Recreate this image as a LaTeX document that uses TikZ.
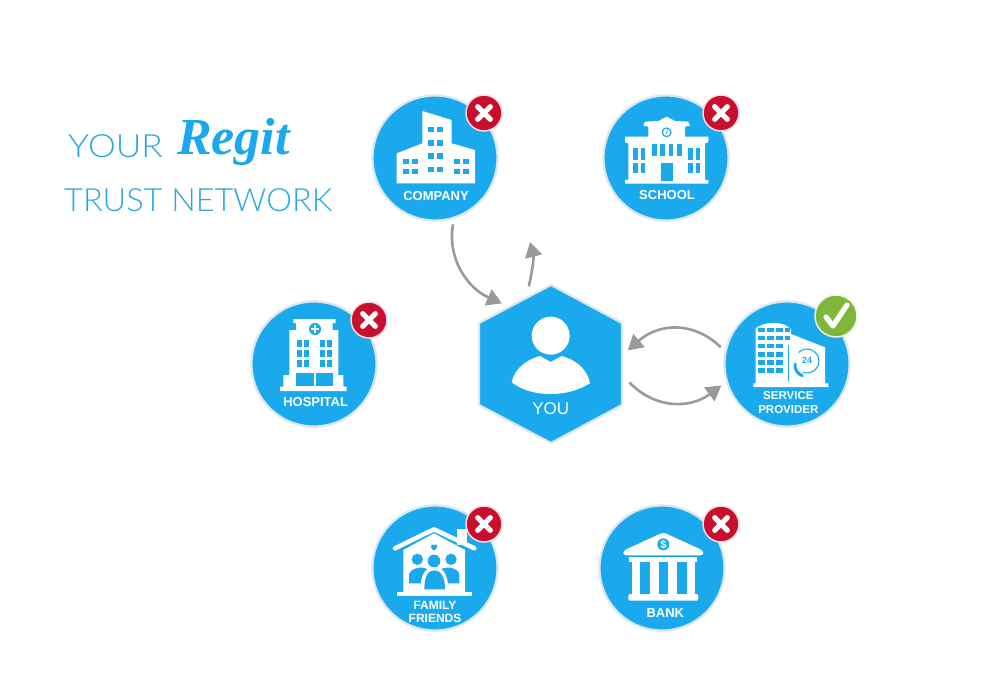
\documentclass[tikz,border=0pt]{standalone}
\usepackage{fontspec}
\setmainfont{Liberation Sans}
\newfontfamily\lightfont{Lato}[UprightFont=* Light]
\newfontfamily\logofont{Liberation Serif}
\usetikzlibrary{arrows.meta,calc}
\definecolor{hub}{HTML}{1AA9EC}
\definecolor{rim}{HTML}{DCE6EE}
\definecolor{titleblue}{HTML}{2BA8E0}
\definecolor{conn}{HTML}{9A9A9A}
\definecolor{nored}{HTML}{C8102E}
\definecolor{okgreen}{HTML}{7FB63C}
\tikzset{
  hubcircle/.style={circle,fill=hub,draw=rim,line width=2.2pt,minimum size=125pt,inner sep=0pt,outer sep=0pt},
  badge/.style={circle,fill=nored,draw=white!85!nored,line width=1.5pt,minimum size=36pt,inner sep=0pt},
  okbadge/.style={circle,fill=okgreen,draw=white!85!okgreen,line width=1.5pt,minimum size=42pt,inner sep=0pt},
  mark stroke/.style={draw=white,line width=5.2pt,line cap=round,line join=round},
  label/.style={text=white,font=\bfseries\fontsize{13}{13}\selectfont,align=center,inner sep=0pt},
  smalllabel/.style={text=white,font=\bfseries\fontsize{12}{13.5}\selectfont,align=center,inner sep=0pt},
  title/.style={text=titleblue,font=\lightfont\fontsize{32}{32}\selectfont,anchor=base west,inner sep=0pt},
  flow/.style={draw=conn,line width=2.6pt,-{Triangle[length=15pt,width=17pt]}},
  zoomed/.style={x=0.33333pt,y=-0.33333pt},
}
\newcommand{\crossmark}[1]{\draw[mark stroke] ($(#1)+(-6.3,-6.3)$) -- ($(#1)+(6.3,6.3)$) ($(#1)+(-6.3,6.3)$) -- ($(#1)+(6.3,-6.3)$);}
\newcommand{\wbox}[4]{\fill[white] (#1,#2) rectangle (#3,#4);}
\newcommand{\bbox}[4]{\fill[hub] (#1,#2) rectangle (#3,#4);}
\begin{document}
\begin{tikzpicture}[x=1pt,y=-1pt]
\useasboundingbox (0,0) rectangle (1000,700);
\fill[white] (0,0) rectangle (1000,700);

% title
\node[title] (your) at (68,158) {\scalebox{1.1}[1]{YOUR}};
\node[anchor=base west,inner sep=0pt,text=hub,font=\logofont\bfseries\itshape\fontsize{52}{52}\selectfont] (regit) at (177,155) {Regit};
\node[title] (trust) at (64,212) {\scalebox{1.015}[1]{TRUST NETWORK}};

% circles
\node[hubcircle] (company) at (435,158) {};
\node[hubcircle] (school) at (666,158) {};
\node[hubcircle] (hospital) at (314,364) {};
\node[hubcircle] (service) at (787,364) {};
\node[hubcircle] (family) at (435,568) {};
\node[hubcircle] (bank) at (662,568) {};

% hexagon
\filldraw[fill=hub,draw=rim,line width=2.2pt,line join=round] (551,285) -- (622,323) -- (622,405) -- (551,443) -- (479,405) -- (479,323) -- cycle;
\node[circle,minimum size=156pt,inner sep=0pt,outer sep=0pt] (you) at (551,364) {};

% person
\begin{scope}[shift={(440,215)},zoomed]
\fill[white] (332,362) circle (57);
\fill[white] (215,502) .. controls (222,465) and (255,435) .. (300,423) -- (332,441) -- (365,423) .. controls (410,435) and (443,465) .. (450,505) .. controls (410,528) and (375,537) .. (332,537) .. controls (290,537) and (250,528) .. (215,502) -- cycle;
\node[text=white,font=\fontsize{17}{17}\selectfont,inner sep=0pt] (youlabel) at (332,582) {YOU};
\end{scope}

% company icon
\begin{scope}[shift={(360,85)},zoomed]
\fill[white] (110,295) -- (110,205) -- (187,175) -- (187,78) -- (275,105) -- (275,175) -- (345,195) -- (345,295) -- cycle;
\foreach \yy in {125,165,205,245}{\bbox{204}{\yy}{222}{\yy+17}\bbox{232}{\yy}{250}{\yy+17}}
\foreach \yy in {222,252}{\bbox{128}{\yy}{146}{\yy+16}\bbox{156}{\yy}{174}{\yy+16}\bbox{282}{\yy}{300}{\yy+16}\bbox{310}{\yy}{328}{\yy+16}}
\node[label] (companylabel) at (228,333) {COMPANY};
\end{scope}

% school icon
\begin{scope}[shift={(590,85)},zoomed]
\fill[white] (160,122) -- (165,110) -- (205,108) -- (230,95) -- (255,108) -- (295,110) -- (300,122) -- (285,125) -- (285,155) -- (355,155) -- (355,172) -- (345,175) -- (345,285) -- (355,285) -- (355,296) -- (105,296) -- (105,285) -- (115,285) -- (115,175) -- (105,172) -- (105,155) -- (175,155) -- (175,125) -- cycle;
\draw[hub,line width=1.2pt] (230,142) circle (13);
\draw[hub,line width=0.7pt] (230,142) -- (233,134) (230,142) -- (227,148);
\foreach \xx in {130,152,295,318}{\bbox{\xx}{190}{\xx+13}{225}\bbox{\xx}{235}{\xx+13}{265}}
\foreach \xx in {187,211,237,262}{\bbox{\xx}{178}{\xx+13}{212}}
\bbox{213}{235}{248}{288}
\node[label] (schoollabel) at (231,330) {SCHOOL};
\end{scope}

% hospital icon
\begin{scope}[shift={(240,295)},zoomed]
\fill[white] (160,72) -- (287,72) -- (287,84) -- (278,84) -- (278,105) -- (295,105) -- (295,240) -- (310,240) -- (310,275) -- (320,275) -- (320,288) -- (120,288) -- (120,275) -- (130,275) -- (130,240) -- (148,240) -- (148,105) -- (168,105) -- (168,84) -- (160,84) -- cycle;
\fill[hub] (225,102) circle (18);
\wbox{221}{91}{229}{113}\wbox{214}{98}{236}{106}
\foreach \xx in {170,192,240,262}{\foreach \yy in {135,165,195}{\bbox{\xx}{\yy}{\xx+15}{\yy+20}}}
\bbox{168}{235}{222}{272}\bbox{228}{235}{280}{272}
\node[label] (hospitallabel) at (227,320) {HOSPITAL};
\end{scope}

% service provider icon
\begin{scope}[shift={(715,290)},zoomed]
\fill[white] (122,285) -- (122,115) .. controls (145,95) and (205,90) .. (228,118) -- (228,132) -- (330,172) -- (330,280) -- (340,280) -- (340,291) -- (115,291) -- (115,280) -- (122,280) -- cycle;
\foreach \yy in {113,138,162,187,211,235}{
  \bbox{130}{\yy}{150}{\yy+13}\bbox{155}{\yy}{178}{\yy+13}\bbox{182}{\yy}{205}{\yy+13}}
\foreach \yy in {113,138}{\bbox{210}{\yy}{225}{\yy+13}}
\fill[hub] (218,165) rectangle (223,272);
\draw[hub,line width=1.1pt] (250.5,187.5) arc[start angle=-135,end angle=110,radius=36];
\draw[hub,line width=3pt,line cap=round] (240,222) .. controls (238,238) and (248,252) .. (262,257);
\node[text=hub,font=\bfseries\fontsize{9}{9}\selectfont,inner sep=0pt] (hours) at (276,211) {24};
\node[smalllabel,font=\bfseries\fontsize{11.5}{14}\selectfont] (servicelabel) at (220,337) {SERVICE\\PROVIDER};
\end{scope}

% family icon
\begin{scope}[shift={(365,500)},zoomed]
\wbox{275}{88}{305}{135}
\fill[white] (115,150) -- (207,100) -- (300,150) -- (300,280) -- (115,280) -- cycle;
\draw[white,line width=4.5pt,line cap=round,line join=round] (90,145) -- (207,88) -- (328,145);
\wbox{97}{275}{320}{287}
\fill[hub] (207,152) .. controls (198,145) and (194,138) .. (200,134) .. controls (203,132) and (206,134) .. (207,137) .. controls (208,134) and (212,132) .. (215,134) .. controls (220,138) and (216,145) .. (207,152) -- cycle;
\fill[hub] (157,178) circle (17) (258,178) circle (17);
\fill[hub] (132,250) -- (132,225) .. controls (132,205) and (175,197) .. (185,207) -- (230,207) .. controls (245,197) and (283,205) .. (283,225) -- (283,250) -- cycle;
\fill[white] (166,275) .. controls (166,224) and (180,202) .. (208,202) .. controls (236,202) and (250,224) .. (250,275) -- cycle;
\fill[hub] (207,183) circle (19);
\fill[hub] (178,268) .. controls (178,228) and (190,211) .. (208,211) .. controls (226,211) and (240,228) .. (240,268) -- cycle;
\node[smalllabel] (familylabel) at (210,336) {FAMILY\\FRIENDS};
\end{scope}

% bank icon
\begin{scope}[shift={(590,500)},zoomed]
\fill[white,rounded corners=3pt] (100,166) -- (100,152) -- (220,97) -- (340,152) -- (340,166) -- cycle;
\fill[hub] (220,133) circle (18);
\node[text=white,font=\bfseries\fontsize{11}{11}\selectfont,inner sep=0pt] (dollar) at (220,133) {\$};
\wbox{118}{172}{320}{185}
\wbox{125}{185}{315}{282}
\bbox{150}{185}{180}{282}\bbox{208}{185}{235}{282}\bbox{262}{185}{292}{282}
\fill[white,rounded corners=2pt] (115,282) rectangle (325,302);
\node[label] (banklabel) at (226,338) {BANK};
\end{scope}

% badges
\node[badge] (b1) at (484,113) {}; \crossmark{b1}
\node[badge] (b2) at (721,113) {}; \crossmark{b2}
\node[badge] (b3) at (369,320) {}; \crossmark{b3}
\node[badge] (b5) at (484,524) {}; \crossmark{b5}
\node[badge] (b6) at (721,524) {}; \crossmark{b6}
\node[okbadge] (b4) at (836,316) {};
\draw[mark stroke] (826,317) -- (833,326) -- (847,305);

% connectors
\coordinate (upfree) at (530,242);
\draw[flow,shorten <=7pt] (company.-72) .. controls (447,258) and (467,288) .. (you.129);
\draw[flow,shorten <=3pt] (you.107) .. controls (532,272) and (534,258) .. (upfree);
\draw[flow,shorten <=7pt] (service.169) .. controls (695,322) and (660,322) .. (you.10);
\draw[flow,shorten <=3pt,shorten >=7pt] (you.-12) .. controls (655,409) and (690,409) .. (service.196);
\end{tikzpicture}
\end{document}
